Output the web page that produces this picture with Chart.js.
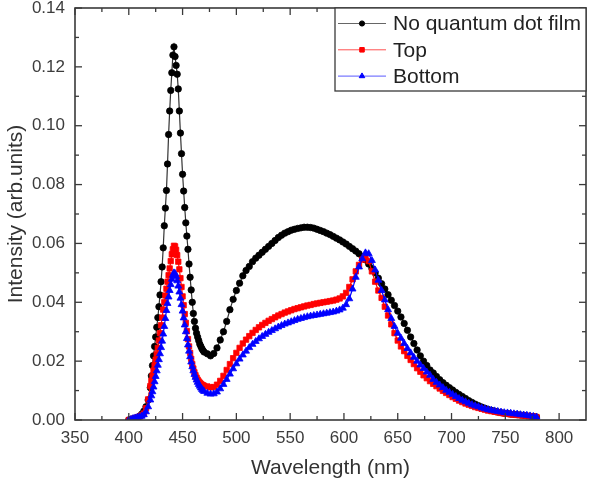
<!DOCTYPE html>
<html>
<head>
<meta charset="utf-8">
<script src="https://cdn.jsdelivr.net/npm/chart.js@4.4.1/dist/chart.umd.min.js"></script>
<style>
html,body{margin:0;padding:0;background:#fff;}
canvas{display:block;}
</style>
</head>
<body>
<canvas id="c" width="597" height="479"></canvas>
<script>
// ---- data ----
const wavelengths = [
  400,402,404,406,408,410,412,414,416,418,
  420,421,422,423,424,425,426,427,428,429,
  430,431,432,433,434,435,436,437,438,439,
  440,441,442,443,444,445,446,447,448,449,
  450,451,452,453,454,455,456,457,458,459,
  460,461,462,463,464,465,466,467,468,469,470,
  473,476,479,482,485,488,491,494,497,500,
  503,506,509,512,515,518,521,524,527,530,
  533,536,539,542,545,548,551,554,557,560,
  563,566,569,572,575,578,581,584,587,590,
  593,596,599,602,605,608,611,614,617,620,
  623,626,629,632,635,638,641,644,647,650,
  653,656,659,662,665,668,671,674,677,680,
  683,686,689,692,695,698,701,704,707,710,
  713,716,719,722,725,728,731,734,737,740,
  743,746,749,752,755,758,761,764,767,770,
  773,776,779
];

const noQD = [
  0.0000,0.0002,0.0004,0.0006,0.0009,0.0013,0.0020,0.0030,0.0045,0.0068,
  0.0110,0.0150,0.0185,0.0218,0.0250,0.0282,0.0315,0.0348,0.0385,0.0425,
  0.0470,0.0520,0.0585,0.0660,0.0720,0.0780,0.0870,0.0970,0.1050,0.1120,
  0.1180,0.1240,0.1268,0.1235,0.1205,0.1175,0.1125,0.1050,0.0975,0.0905,
  0.0835,0.0778,0.0722,0.0670,0.0625,0.0580,0.0530,0.0485,0.0442,0.0400,
  0.0362,0.0335,0.0312,0.0295,0.0282,0.0270,0.0258,0.0250,0.0242,0.0236,0.0231,
  0.0225,0.0218,0.0226,0.0245,0.0272,0.0300,0.0335,0.0375,0.0410,0.0440,
  0.0465,0.0490,0.0508,0.0522,0.0538,0.0550,0.0560,0.0570,0.0580,0.0590,
  0.0600,0.0610,0.0620,0.0628,0.0635,0.0640,0.0645,0.0648,0.0651,0.0653,
  0.0655,0.0655,0.0654,0.0652,0.0648,0.0644,0.0640,0.0635,0.0630,0.0624,
  0.0618,0.0612,0.0605,0.0598,0.0590,0.0582,0.0574,0.0565,0.0555,0.0544,
  0.0530,0.0515,0.0500,0.0482,0.0463,0.0445,0.0426,0.0407,0.0389,0.0370,
  0.0350,0.0328,0.0305,0.0282,0.0260,0.0238,0.0218,0.0200,0.0185,0.0170,
  0.0160,0.0148,0.0137,0.0127,0.0118,0.0110,0.0102,0.0094,0.0087,0.0080,
  0.0073,0.0066,0.0060,0.0054,0.0049,0.0044,0.0040,0.0036,0.0033,0.0030,
  0.0027,0.0025,0.0023,0.0022,0.0020,0.0019,0.0018,0.0017,0.0016,0.0014,
  0.0013,0.0012,0.0010
];

const topFilm = [
  0.0000,0.0002,0.0004,0.0006,0.0009,0.0012,0.0016,0.0022,0.0040,0.0070,
  0.0115,0.0133,0.0150,0.0168,0.0186,0.0205,0.0224,0.0245,0.0270,0.0295,
  0.0322,0.0348,0.0375,0.0400,0.0423,0.0446,0.0470,0.0492,0.0515,0.0540,
  0.0563,0.0580,0.0592,0.0590,0.0578,0.0560,0.0538,0.0512,0.0482,0.0452,
  0.0420,0.0390,0.0360,0.0330,0.0302,0.0275,0.0250,0.0228,0.0208,0.0190,
  0.0175,0.0162,0.0152,0.0144,0.0137,0.0131,0.0127,0.0123,0.0120,0.0118,0.0116,
  0.0114,0.0111,0.0112,0.0120,0.0133,0.0150,0.0170,0.0190,0.0210,0.0228,
  0.0245,0.0260,0.0273,0.0285,0.0296,0.0306,0.0315,0.0323,0.0330,0.0337,
  0.0343,0.0349,0.0355,0.0360,0.0365,0.0369,0.0373,0.0377,0.0380,0.0383,
  0.0386,0.0389,0.0391,0.0394,0.0396,0.0398,0.0400,0.0402,0.0404,0.0406,
  0.0409,0.0413,0.0420,0.0432,0.0452,0.0478,0.0505,0.0527,0.0545,0.0555,
  0.0540,0.0505,0.0470,0.0440,0.0415,0.0385,0.0355,0.0325,0.0295,0.0270,
  0.0250,0.0234,0.0218,0.0204,0.0190,0.0176,0.0164,0.0152,0.0142,0.0132,
  0.0123,0.0115,0.0107,0.0099,0.0092,0.0085,0.0078,0.0072,0.0066,0.0061,
  0.0056,0.0052,0.0048,0.0044,0.0041,0.0038,0.0035,0.0032,0.0030,0.0028,
  0.0026,0.0024,0.0022,0.0021,0.0019,0.0018,0.0017,0.0016,0.0015,0.0014,
  0.0013,0.0012,0.0010
];

const bottomFilm = [
  0.0000,0.0002,0.0005,0.0007,0.0009,0.0011,0.0013,0.0018,0.0028,0.0045,
  0.0068,0.0082,0.0096,0.0112,0.0130,0.0148,0.0167,0.0186,0.0205,0.0225,
  0.0246,0.0268,0.0292,0.0318,0.0345,0.0372,0.0396,0.0418,0.0440,0.0460,
  0.0478,0.0492,0.0500,0.0498,0.0488,0.0473,0.0455,0.0435,0.0414,0.0392,
  0.0370,0.0347,0.0323,0.0300,0.0277,0.0255,0.0234,0.0215,0.0197,0.0181,
  0.0167,0.0155,0.0145,0.0136,0.0128,0.0121,0.0115,0.0109,0.0104,0.0100,0.0097,
  0.0091,0.0088,0.0089,0.0095,0.0106,0.0121,0.0138,0.0156,0.0174,0.0191,
  0.0207,0.0221,0.0234,0.0246,0.0257,0.0267,0.0276,0.0284,0.0291,0.0298,
  0.0304,0.0310,0.0316,0.0321,0.0326,0.0330,0.0334,0.0338,0.0342,0.0345,
  0.0348,0.0351,0.0353,0.0355,0.0357,0.0359,0.0361,0.0363,0.0365,0.0367,
  0.0370,0.0374,0.0380,0.0392,0.0412,0.0445,0.0485,0.0520,0.0548,0.0568,
  0.0565,0.0542,0.0510,0.0475,0.0440,0.0408,0.0375,0.0345,0.0318,0.0295,
  0.0278,0.0260,0.0243,0.0228,0.0213,0.0200,0.0187,0.0175,0.0163,0.0152,
  0.0138,0.0128,0.0119,0.0110,0.0101,0.0094,0.0087,0.0080,0.0073,0.0067,
  0.0062,0.0057,0.0052,0.0048,0.0045,0.0041,0.0038,0.0035,0.0033,0.0031,
  0.0029,0.0027,0.0025,0.0024,0.0023,0.0021,0.0020,0.0018,0.0017,0.0016,
  0.0014,0.0012,0.0010
];

const seriesLabels = ['No quantum dot film', 'Top', 'Bottom'];
const xTickValues = [350,400,450,500,550,600,650,700,750,800];
const yTickValues = [0.00,0.02,0.04,0.06,0.08,0.10,0.12,0.14];

// ---- helpers ----
const toXY = arr => wavelengths.map((w, i) => ({x: w, y: arr[i]}));
const FONT = '"Liberation Sans", Arial, sans-serif';
const AXIS = '#3a3a3a';

const frameAndLegend = {
  id: 'frameAndLegend',
  afterDatasetsDraw(chart) {
    const {ctx, chartArea: a, scales: {x, y}} = chart;
    ctx.save();
    ctx.strokeStyle = AXIS;
    ctx.lineWidth = 1.6;
    ctx.strokeRect(a.left, a.top, a.right - a.left, a.bottom - a.top);
    ctx.lineWidth = 1.3;
    const seg = (x1, y1, x2, y2) => { ctx.beginPath(); ctx.moveTo(x1, y1); ctx.lineTo(x2, y2); ctx.stroke(); };
    xTickValues.forEach(v => {
      const px = x.getPixelForValue(v);
      seg(px, a.bottom, px, a.bottom - 7);
      seg(px, a.top, px, a.top + 7);
      const mpx = x.getPixelForValue(v + 25);
      if (mpx < a.right - 1) {
        seg(mpx, a.bottom, mpx, a.bottom - 4);
        seg(mpx, a.top, mpx, a.top + 4);
      }
    });
    yTickValues.forEach((v, i) => {
      const py = y.getPixelForValue(v);
      seg(a.left, py, a.left + 7, py);
      seg(a.right, py, a.right - 7, py);
      if (i < yTickValues.length - 1) {
        const mpy = y.getPixelForValue(v + 0.01);
        seg(a.left, mpy, a.left + 4, mpy);
        seg(a.right, mpy, a.right - 4, mpy);
      }
    });
    // legend box
    const bx = 335, by = a.top, bw = a.right - 335, bh = 83;
    ctx.fillStyle = '#fff';
    ctx.fillRect(bx, by, bw, bh);
    ctx.strokeStyle = AXIS;
    ctx.lineWidth = 1.3;
    ctx.strokeRect(bx, by, bw, bh);
    chart.data.datasets.forEach((ds, i) => {
      const cy = by + 15.5 + i * 26.3;
      ctx.strokeStyle = ds.legendLine;
      ctx.lineWidth = 1;
      seg(bx + 3, cy, bx + 51, cy);
      ctx.fillStyle = ds.pointBackgroundColor;
      ctx.strokeStyle = ds.pointBorderColor;
      Chart.helpers.drawPoint(ctx, {pointStyle: ds.pointStyle, radius: ds.legendRadius, rotation: 0, borderWidth: 1}, bx + 27, cy);
      ctx.fillStyle = '#222';
      ctx.font = '21px ' + FONT;
      ctx.textBaseline = 'middle';
      ctx.textAlign = 'left';
      ctx.fillText(ds.label, bx + 58, cy + 1);
    });
    ctx.restore();
  }
};

new Chart(document.getElementById('c'), {
  type: 'scatter',
  data: {
    datasets: [
      {
        label: seriesLabels[0], data: toXY(noQD), showLine: true,
        borderColor: '#333', borderWidth: 1.2,
        pointStyle: 'circle', pointRadius: 3.2, pointBorderWidth: 0.8,
        pointBackgroundColor: '#000', pointBorderColor: '#000',
        legendLine: '#666', legendRadius: 2.6, order: 3
      },
      {
        label: seriesLabels[1], data: toXY(topFilm), showLine: true,
        borderColor: '#ff0000', borderWidth: 1.2,
        pointStyle: 'rect', pointRadius: 3.8, pointBorderWidth: 0.8,
        pointBackgroundColor: '#ff0000', pointBorderColor: '#ff0000',
        legendLine: '#ff5050', legendRadius: 3.2, order: 2
      },
      {
        label: seriesLabels[2], data: toXY(bottomFilm), showLine: true,
        borderColor: '#0000ff', borderWidth: 1.2,
        pointStyle: 'triangle', pointRadius: 4.0, pointBorderWidth: 0.8,
        pointBackgroundColor: '#0000ff', pointBorderColor: '#0000ff',
        legendLine: '#5a5aff', legendRadius: 3.2, order: 1
      }
    ]
  },
  options: {
    responsive: false,
    animation: false,
    layout: {padding: {top: 8, right: 11, bottom: 0, left: 0}},
    plugins: {legend: {display: false}, tooltip: {enabled: false}},
    elements: {line: {tension: 0}},
    scales: {
      x: {
        type: 'linear', min: 350, max: 825,
        grid: {display: false, drawTicks: false},
        border: {display: false},
        ticks: {
          stepSize: 50, includeBounds: false, padding: 8,
          color: '#3c3c3c', font: {family: FONT, size: 17},
          maxRotation: 0, autoSkip: false
        },
        title: {
          display: true, text: 'Wavelength (nm)', color: '#333',
          font: {family: FONT, size: 21, lineHeight: 1}, padding: {top: 0, bottom: 0}
        },
        afterFit: s => { s.height = 59; s.paddingLeft = 0; s.paddingRight = 0; }
      },
      y: {
        type: 'linear', min: 0, max: 0.14,
        grid: {display: false, drawTicks: false},
        border: {display: false},
        ticks: {
          stepSize: 0.02, padding: 10,
          color: '#3c3c3c', font: {family: FONT, size: 17},
          callback: v => Number(v).toFixed(2)
        },
        title: {
          display: true, text: 'Intensity (arb.units)', color: '#333',
          font: {family: FONT, size: 21, lineHeight: 1}, padding: {top: 6, bottom: 0}
        },
        afterFit: s => { s.width = 75; s.paddingTop = 0; s.paddingBottom = 0; }
      }
    }
  },
  plugins: [frameAndLegend]
});
</script>
</body>
</html>
